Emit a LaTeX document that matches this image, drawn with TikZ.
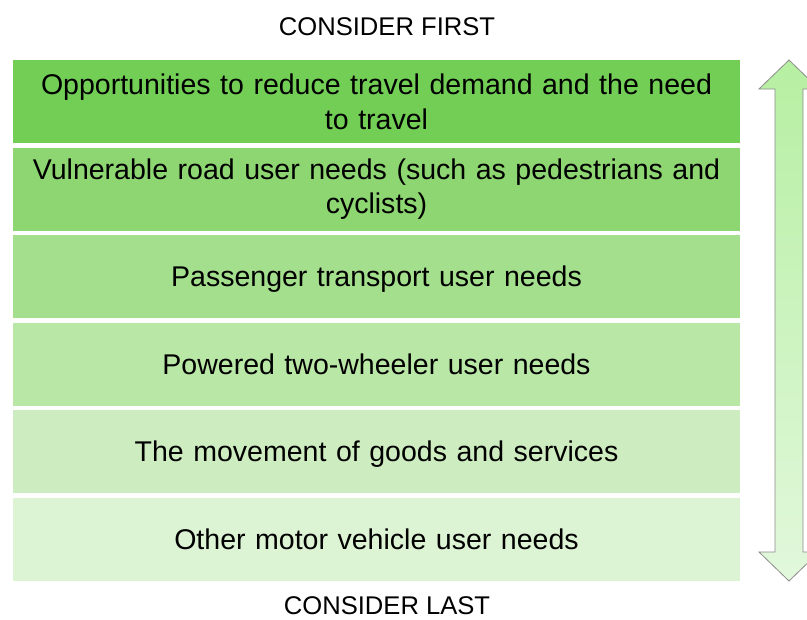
\documentclass[tikz,border=0pt]{standalone}
\usepackage{fontspec}
\setmainfont{Liberation Sans}
\usetikzlibrary{positioning}
\usepackage{xcolor}
\definecolor{levelA}{HTML}{72CE55}
\definecolor{levelB}{HTML}{8ED672}
\definecolor{levelC}{HTML}{A3DF8C}
\definecolor{levelD}{HTML}{B9E7A6}
\definecolor{levelE}{HTML}{CDEDC0}
\definecolor{levelF}{HTML}{DDF4D4}
\definecolor{arrowtop}{HTML}{B6EFA2}
\definecolor{arrowbottom}{HTML}{E2F8DC}
\definecolor{arrowline}{HTML}{8C8C8C}

\tikzset{
  level/.style={fill=#1, minimum width=545.25pt, minimum height=62.25pt,
    text width=535pt, align=center, inner sep=0pt,
    font=\fontsize{21.4}{26}\selectfont},
  oneline/.style={text depth=0pt},
  heading/.style={inner sep=0pt, font=\fontsize{19.2}{22}\selectfont},
  priority/.style={draw=arrowline, line width=0.6pt, top color=arrowtop,
    bottom color=arrowbottom},
}

\begin{document}
\begin{tikzpicture}[x=0.75pt, y=-0.75pt]
  \clip (0,0) rectangle (807,619);

  \node[heading] (first) at (387,27) {CONSIDER FIRST};

  % hierarchy of needs, most important on top
  \node[level=levelA] (demand) at (376.5,101.5) {Opportunities to reduce travel demand and the need\\to travel};
  \node[level=levelB, below=3pt of demand] (vulnerable) {Vulnerable road user needs (such as pedestrians and\\cyclists)};
  \node[level=levelC, oneline, below=3pt of vulnerable] (passenger) {Passenger transport user needs};
  \node[level=levelD, oneline, below=3pt of passenger] (powered) {Powered two-wheeler user needs};
  \node[level=levelE, oneline, below=3pt of powered] (goods) {The movement of goods and services};
  \node[level=levelF, oneline, below=3pt of goods] (motor) {Other motor vehicle user needs};

  \node[heading] (last) at (387,606) {CONSIDER LAST};

  % double-headed priority arrow
  \draw[priority] (789,60) -- (819,89) -- (803,89) -- (803,552) -- (819,552)
    -- (789,581) -- (759,552) -- (775,552) -- (775,89) -- (759,89) -- cycle;
\end{tikzpicture}
\end{document}
